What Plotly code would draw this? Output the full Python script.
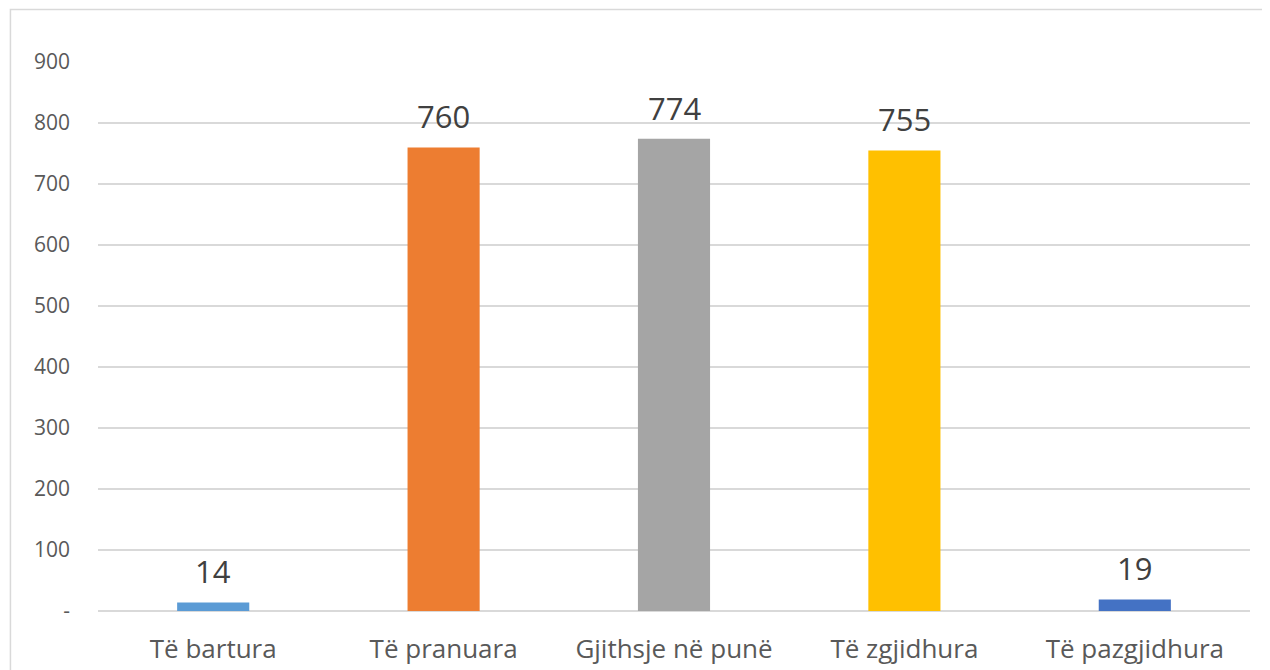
import plotly.graph_objects as go

categories = ["Të bartura", "Të pranuara", "Gjithsje në punë", "Të zgjidhura", "Të pazgjidhura"]
values = [14, 760, 774, 755, 19]
bar_colors = ["#5B9BD5", "#ED7D31", "#A5A5A5", "#FFC000", "#4472C4"]
y_ticks = [0, 100, 200, 300, 400, 500, 600, 700, 800, 900]
y_tick_labels = ["-", "100", "200", "300", "400", "500", "600", "700", "800", "900"]

FONT = "Open Sans, Lato, sans-serif"

fig = go.Figure()
fig.add_trace(go.Bar(x=categories, y=values, marker=dict(color=bar_colors, line=dict(width=0)),
                     showlegend=False, hoverinfo="x+y"))

for c, v in zip(categories, values):
    fig.add_annotation(x=c, y=v, text=str(v), showarrow=False, yanchor="bottom", yshift=8,
                       font=dict(size=31, color="#404040", family=FONT))

# cadre du graphique (style Excel)
fig.add_shape(type="rect", xref="paper", yref="paper", x0=-0.076, x1=1.2, y0=-0.3, y1=1.0957,
              line=dict(color="#D9D9D9", width=1.5), fillcolor="rgba(0,0,0,0)", layer="below")

# la page ajoute ~8px de marge au body : on compense dans les marges
fig.update_layout(
    width=1262, height=662,
    paper_bgcolor="white", plot_bgcolor="white",
    bargap=0.687,
    margin=dict(l=90, r=20, t=54, b=59),
    font=dict(family=FONT, color="#595959"),
    xaxis=dict(showgrid=False, showline=False, ticks="", tickfont=dict(size=26, color="#595959"),
               ticklabelstandoff=20, automargin=False),
    yaxis=dict(range=[0, 900], tickvals=y_ticks, ticktext=y_tick_labels, showgrid=True,
               gridcolor="#D9D9D9", gridwidth=1.5, zeroline=True, zerolinecolor="#D9D9D9",
               zerolinewidth=1.5, showline=False, ticks="", tickfont=dict(size=21, color="#595959"),
               ticklabelstandoff=27, automargin=False),
)

fig.write_html("out.html")
